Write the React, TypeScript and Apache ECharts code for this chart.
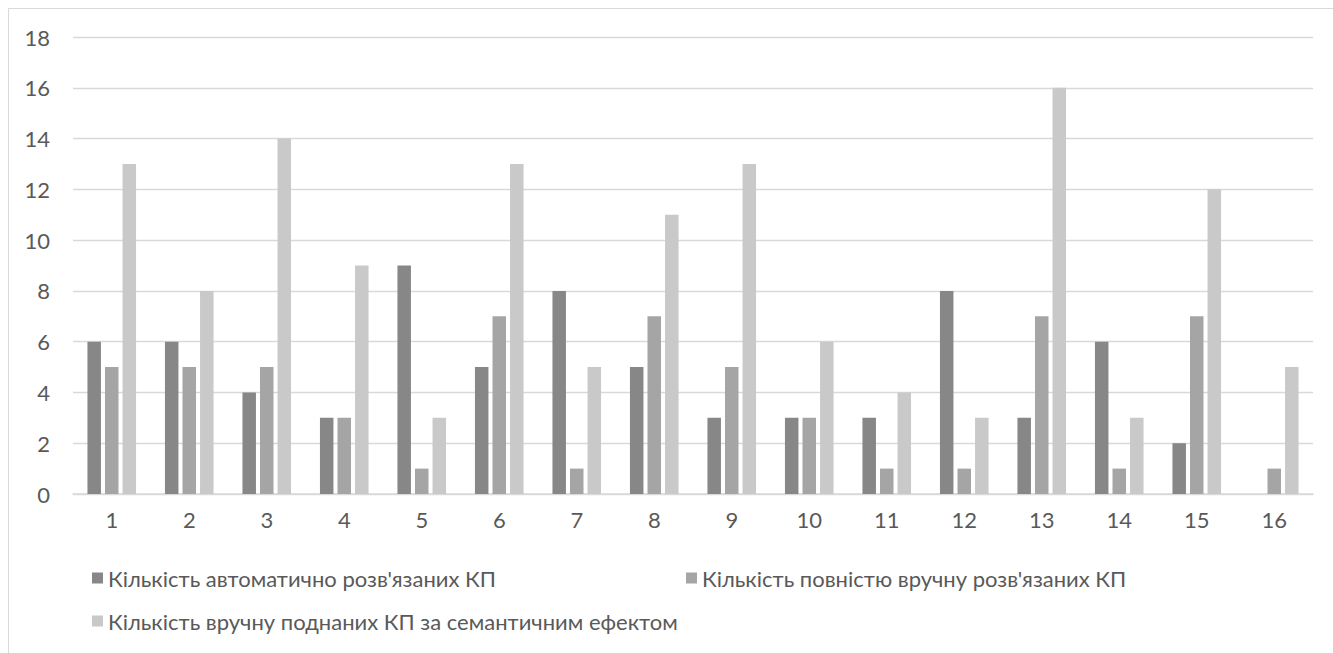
import React, { useEffect, useRef } from "react";
import * as echarts from "echarts";

const categories = ["1", "2", "3", "4", "5", "6", "7", "8", "9", "10", "11", "12", "13", "14", "15", "16"];
const seriesNames = [
  "Кількість автоматично розв'язаних КП",
  "Кількість повністю вручну розв'язаних КП",
  "Кількість вручну поднаних КП за семантичним ефектом",
];
const autoSolved = [6, 6, 4, 3, 9, 5, 8, 5, 3, 3, 3, 8, 3, 6, 2, 0];
const manualSolved = [5, 5, 5, 3, 1, 7, 1, 7, 5, 3, 1, 1, 7, 1, 7, 1];
const semanticManual = [13, 8, 14, 9, 3, 13, 5, 11, 13, 6, 4, 3, 16, 3, 12, 5];
const seriesColors = ["#878787", "#a5a5a5", "#c9c9c9"];

const FONT = "Lato, 'Noto Sans', sans-serif";
const TEXT_COLOR = "#595959";
const LINE_COLOR = "#d9d9d9";

export default function App() {
  const ref = useRef<HTMLDivElement>(null);

  useEffect(() => {
    if (!ref.current) return;
    const chart = echarts.init(ref.current, undefined, { renderer: "svg" });
    const mkLegend = (name: string, left: number, top: number) => ({
      data: [name],
      left,
      top,
      padding: 0,
      itemWidth: 11,
      itemHeight: 11,
      itemGap: 0,
      icon: "rect",
      textStyle: { fontFamily: FONT, fontSize: 22, color: TEXT_COLOR },
    });
    const values = [autoSolved, manualSolved, semanticManual];
    chart.setOption({
      animation: false,
      backgroundColor: "#ffffff",
      graphic: [
        {
          type: "polyline",
          shape: { points: [[0.5, 700], [0.5, 0.5], [1400, 0.5]] },
          style: { stroke: LINE_COLOR, fill: "none", lineWidth: 1 },
          silent: true,
        },
      ],
      legend: [
        mkLegend(seriesNames[0], 84, 559),
        mkLegend(seriesNames[1], 678, 559),
        mkLegend(seriesNames[2], 84, 602),
      ],
      grid: { left: 65, right: 20, top: 29, bottom: 159, containLabel: false },
      xAxis: {
        type: "category",
        data: categories,
        axisLine: { lineStyle: { color: LINE_COLOR, width: 1.5 } },
        axisTick: { show: false },
        axisLabel: { color: TEXT_COLOR, fontFamily: FONT, fontSize: 22, margin: 14 },
      },
      yAxis: {
        type: "value",
        min: 0,
        max: 18,
        interval: 2,
        axisLine: { show: false },
        axisTick: { show: false },
        splitLine: { lineStyle: { color: LINE_COLOR, width: 1.3 } },
        axisLabel: { color: TEXT_COLOR, fontFamily: FONT, fontSize: 22, margin: 23 },
      },
      series: values.map((data, i) => ({
        name: seriesNames[i],
        type: "bar",
        data,
        barWidth: 13.5,
        barGap: "30%",
        itemStyle: { color: seriesColors[i] },
      })),
    });
    return () => chart.dispose();
  }, []);

  return (
    <div style={{ position: "absolute", left: 8, top: 8, width: 1325, height: 645 }}>
      <div ref={ref} style={{ width: 1325, height: 645 }} />
    </div>
  );
}
